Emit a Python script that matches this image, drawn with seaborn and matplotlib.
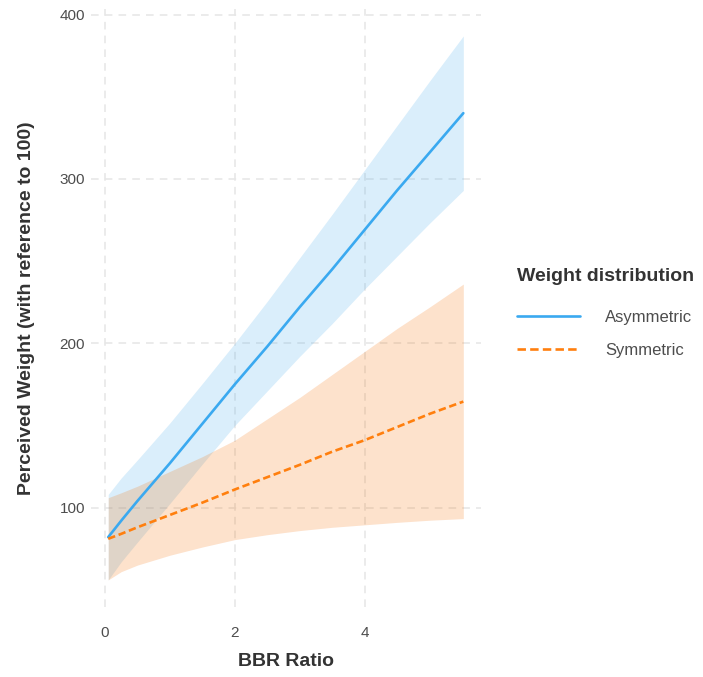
import numpy as np
import pandas as pd
import seaborn as sns
import matplotlib.pyplot as plt

# values
bbr = [0.05, 0.25, 0.5, 1.0, 1.5, 2.0, 2.5, 3.0, 3.5, 4.0, 4.5, 5.0, 5.52]

asym_fit = [82, 92, 104, 127, 151, 175, 198, 222, 245, 269, 293, 316, 340]
asym_lo = [56, 67, 79, 102.5, 126.5, 150, 171, 192, 212, 233, 253, 273, 293]
asym_hi = [108, 118, 129, 151.5, 175.5, 200, 225.5, 252, 278.5, 305.5, 332.5, 359.5, 387]

sym_fit = [81, 84, 88, 95.5, 103, 111, 118.5, 126, 134, 141, 149, 157, 164.5]
sym_lo = [56, 61, 65, 71, 76, 80.5, 83.5, 86, 88, 89.5, 91, 92.3, 93.3]
sym_hi = [106, 109, 113, 122, 131, 141, 154, 167, 181, 195, 209, 222, 236]

groups = ["Asymmetric", "Symmetric"]
colors = {"Asymmetric": "#3aa9f0", "Symmetric": "#ff7f0e"}

df = pd.concat([
    pd.DataFrame({"BBR Ratio": bbr, "fit": asym_fit, "lo": asym_lo, "hi": asym_hi, "Weight distribution": "Asymmetric"}),
    pd.DataFrame({"BBR Ratio": bbr, "fit": sym_fit, "lo": sym_lo, "hi": sym_hi, "Weight distribution": "Symmetric"}),
])

sns.set_theme(style="whitegrid")
plt.rcParams['font.family'] = ['Liberation Sans', 'DejaVu Sans']

fig = plt.figure(figsize=(7.03, 6.77), dpi=100)
ax = fig.add_axes([0.129, 0.1034, 0.555, 0.8836])

fill_cols = {"Asymmetric": "#46aaeb", "Symmetric": "#f56e00"}
for g in groups:
    d = df[df["Weight distribution"] == g]
    ax.fill_between(d["BBR Ratio"], d["lo"], d["hi"], color=fill_cols[g], alpha=0.2, linewidth=0)

sns.lineplot(data=df, x="BBR Ratio", y="fit", hue="Weight distribution", style="Weight distribution",
             palette=colors, dashes={"Asymmetric": "", "Symmetric": (2.8, 1.4)},
             linewidth=1.9, ax=ax, legend=False)

ax.set_xlim(-0.22, 5.79)
ax.set_ylim(39.5, 403.5)
ax.set_xticks([0, 2, 4])
ax.set_yticks([100, 200, 300, 400])
ax.grid(True, color="#e6e6e6", linestyle=(0, (5, 4)), linewidth=1.1)
for s in ax.spines.values():
    s.set_visible(False)
ax.tick_params(axis="both", length=0, labelsize=11, labelcolor="#4d4d4d")
ax.tick_params(axis="x", pad=14)
ax.tick_params(axis="y", pad=4)
ax.set_xlabel("BBR Ratio", fontsize=14, fontweight="bold", color="#333333", labelpad=9)
ax.set_ylabel("Perceived Weight (with reference to 100)", fontsize=14, fontweight="bold",
              color="#333333", labelpad=18)

handles = [plt.Line2D([], [], color=colors["Asymmetric"], lw=1.9),
           plt.Line2D([], [], color=colors["Symmetric"], lw=1.9, dashes=(3.2, 1.6))]
leg = fig.legend(handles, groups, loc="upper left", bbox_to_anchor=(502 / 703, 1 - 253 / 677),
                 frameon=False, title="Weight distribution", fontsize=12,
                 handlelength=3.8, handletextpad=1.5, labelspacing=1.1, alignment="left",
                 title_fontproperties={"weight": "bold", "size": 14})
leg.get_title().set_color("#333333")
for t in leg.get_texts():
    t.set_color("#4d4d4d")
leg._legend_box.sep = 18

fig.savefig("out.png", dpi=100)
